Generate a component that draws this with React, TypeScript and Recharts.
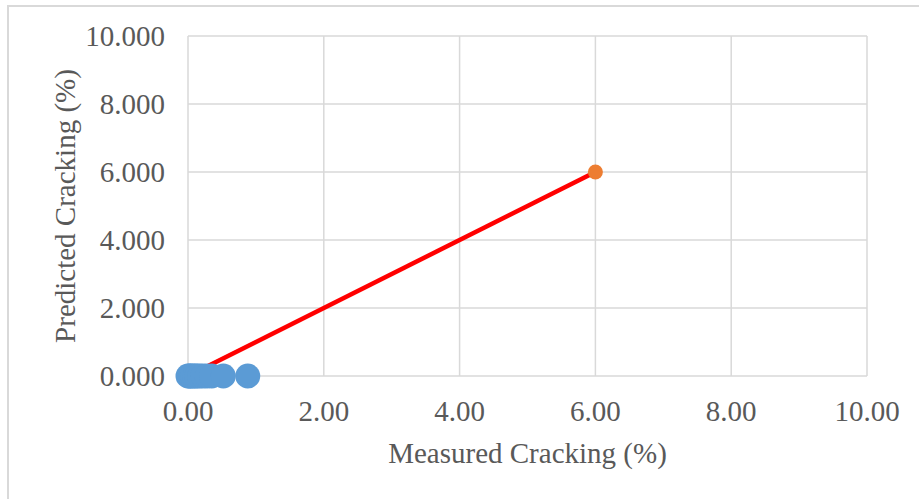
import { ScatterChart, Scatter, XAxis, YAxis, CartesianGrid } from "recharts";

// measured vs predicted cracking (%)
const measured = [0, 0.02, 0.04, 0.07, 0.1, 0.13, 0.17, 0.22, 0.28, 0.35, 0.52, 0.88];
const predicted = [0, 0, 0, 0, 0, 0, 0, 0, 0, 0, 0, 0];

// line of equality and its end point
const lineX = [0, 6];
const lineY = [0, 6];
const endX = [6];
const endY = [6];

const xTicks = [0, 2, 4, 6, 8, 10];
const yTicks = [0, 2, 4, 6, 8, 10];

const pointData = measured.map((x, i) => ({ x, y: predicted[i] }));
const lineData = lineX.map((x, i) => ({ x, y: lineY[i] }));
const endData = endX.map((x, i) => ({ x, y: endY[i] }));

const FONT = "'Liberation Serif', 'Times New Roman', serif";
const TEXT = "#595959";

const XTitle = (props: any) => {
  const vb = props.viewBox || {};
  return (
    <text
      x={vb.x + vb.width / 2}
      y={vb.y + 87}
      textAnchor="middle"
      fill={TEXT}
      fontSize={29}
      fontFamily={FONT}
    >
      Measured Cracking (%)
    </text>
  );
};

const YTitle = (props: any) => {
  const vb = props.viewBox || {};
  const x = vb.x - 13;
  const y = vb.y + vb.height / 2;
  return (
    <text
      x={x}
      y={y}
      transform={`rotate(-90, ${x}, ${y})`}
      textAnchor="middle"
      fill={TEXT}
      fontSize={29}
      fontFamily={FONT}
    >
      Predicted Cracking (%)
    </text>
  );
};

export default function App() {
  const tick = { fill: TEXT, fontSize: 29, fontFamily: FONT };
  return (
    <div
      style={{
        position: "fixed",
        left: 0,
        top: 0,
        width: 919,
        height: 499,
        overflow: "hidden",
        background: "#fff",
      }}
    >
      <div
        style={{
          position: "absolute",
          left: 7,
          top: 5,
          width: 1000,
          height: 1000,
          borderLeft: "2px solid #D9D9D9",
          borderTop: "2px solid #D9D9D9",
        }}
      />
      <div style={{ position: "absolute", left: 0, top: 0 }}>
        <ScatterChart
          width={919}
          height={499}
          margin={{ top: 36, right: 52, left: 88, bottom: 33 }}
          style={{ fontFamily: FONT }}
        >
          <CartesianGrid stroke="#D9D9D9" strokeWidth={1.5} />
          <XAxis
            type="number"
            dataKey="x"
            domain={[0, 10]}
            ticks={xTicks}
            interval={0}
            height={90}
            axisLine={false}
            tickLine={false}
            tickSize={0}
            tickMargin={24}
            tick={tick}
            tickFormatter={(v: number) => v.toFixed(2)}
            label={{ content: XTitle }}
          />
          <YAxis
            type="number"
            dataKey="y"
            domain={[0, 10]}
            ticks={yTicks}
            interval={0}
            width={100}
            axisLine={false}
            tickLine={false}
            tickSize={0}
            tickMargin={23}
            tick={tick}
            tickFormatter={(v: number) => v.toFixed(3)}
            label={{ content: YTitle }}
          />
          <Scatter
            data={lineData}
            line={{ stroke: "#FF0000", strokeWidth: 4.5 }}
            shape={() => <g />}
            isAnimationActive={false}
          />
          <Scatter
            data={pointData}
            fill="#5B9BD5"
            shape={(p: any) => <circle cx={p.cx} cy={p.cy} r={12.5} fill="#5B9BD5" />}
            isAnimationActive={false}
          />
          <Scatter
            data={endData}
            fill="#ED7D31"
            shape={(p: any) => <circle cx={p.cx} cy={p.cy} r={7.5} fill="#ED7D31" />}
            isAnimationActive={false}
          />
        </ScatterChart>
      </div>
    </div>
  );
}
